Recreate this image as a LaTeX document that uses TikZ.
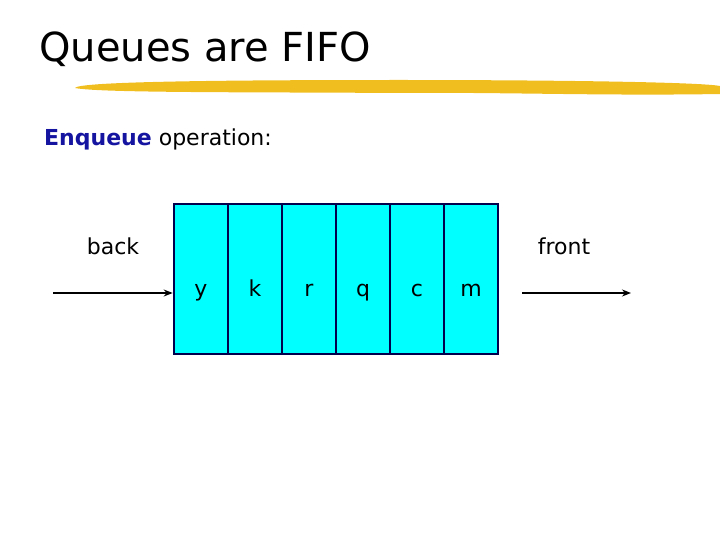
\documentclass[tikz,border=0pt]{standalone}
\usepackage{fontspec}
\setmainfont{DejaVu Sans}
\usetikzlibrary{arrows.meta}
\definecolor{navy}{RGB}{20,20,160}
\definecolor{brush}{RGB}{240,190,30}
\definecolor{aqua}{RGB}{0,255,255}
\tikzstyle{flow} = [line width=1.8pt,-{Stealth[length=9pt,width=7pt]}]
\tikzstyle{cell} = [draw=black!70!blue,fill=aqua,line width=2.6pt,minimum width=54pt,minimum height=150pt,inner sep=0pt]
\tikzstyle{lbl} = [font=\fontsize{22}{24}\selectfont,inner sep=0pt]
\begin{document}
\begin{tikzpicture}[x=1pt,y=-1pt]
            \useasboundingbox (0,0) rectangle (720,540);
            \node[anchor=base west,font=\fontsize{40}{44}\selectfont,inner sep=0pt] (title) at (39,62) {Queues are FIFO};
            \fill[brush] (75,88) .. controls (78,82) and (200,80) .. (400,80) .. controls (550,80) and (700,82) .. (720,86) -- (720,94) .. controls (600,96) and (500,92) .. (400,93) .. controls (250,92) and (100,93) .. (75,88) -- cycle;
            \node[lbl,anchor=base west] (op) at (44,146) {\textcolor{navy}{\textbf{Enqueue}} operation:};

            \foreach \c [count=\i from 0] in {y,k,r,q,c,m} {
                \node[cell] (c\i) at (201+54*\i,279) {};
                \node[lbl,anchor=base] (t\i) at (201+54*\i,296) {\c};
            }

            \node[lbl] (back) at (113,246) {back};
            \node[lbl] (front) at (564,246) {front};

            \coordinate (inL) at (53,293);
            \coordinate (outR) at (631,293);
            \coordinate (outL) at (522,293);
            \draw[flow] (inL) -- (c0.west |- inL);
            \draw[flow] (outL) -- (outR);
\end{tikzpicture}
\end{document}
